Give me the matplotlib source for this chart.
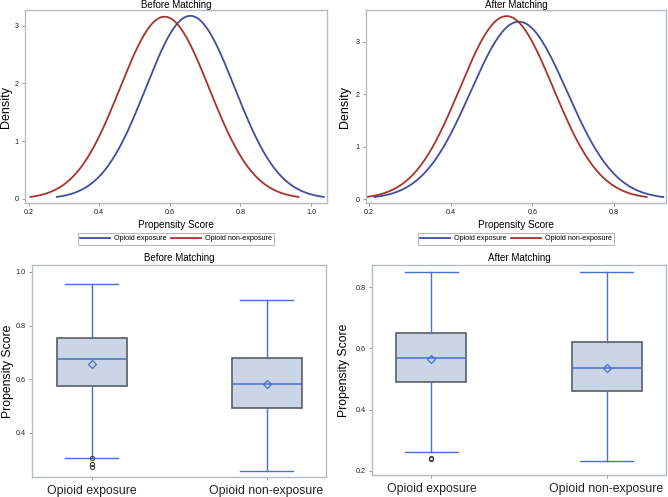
import numpy as np
import matplotlib
matplotlib.use("Agg")
import matplotlib.pyplot as plt

plt.rcParams["font.family"] = ["Liberation Sans", "DejaVu Sans"]

GROUPS = ["Opioid exposure", "Opioid non-exposure"]

# normal density fits (mean, sd) per group
before_mean = [0.658, 0.585]
before_sd = [0.1259, 0.1265]
after_mean = [0.567, 0.537]
after_sd = [0.1178, 0.1142]

# box plot summaries
before_q1 = [0.575, 0.494]
before_med = [0.676, 0.583]
before_q3 = [0.754, 0.681]
before_lo = [0.307, 0.260]
before_hi = [0.956, 0.896]
before_avg = [0.657, 0.584]
before_out = [[0.305, 0.286, 0.274], []]

after_q1 = [0.489, 0.462]
after_med = [0.570, 0.535]
after_q3 = [0.650, 0.620]
after_lo = [0.260, 0.232]
after_hi = [0.849, 0.850]
after_avg = [0.567, 0.536]
after_out = [[0.241, 0.238], []]

BLUE = "#3d4f9e"
RED = "#a8332b"
FRAME = "#b4bcc0"
BOX_FILL = "#cad5e6"
BOX_EDGE = "#5a5f66"
WHISK = "#4a6fcc"

fig = plt.figure(figsize=(6.68, 4.97), dpi=100)


def style_frame(ax):
    for s in ax.spines.values():
        s.set_color(FRAME)
        s.set_linewidth(1.0)
    ax.tick_params(colors="#888888", labelcolor="#222222", labelsize=5.2,
                   length=2.5, width=0.6, pad=2)


def density_panel(rect, title, means, sds, xlim, ylim, xticks, yticks, ylab_x):
    ax = fig.add_axes(rect)
    for m, s, c, lab in zip(means, sds, [BLUE, RED], GROUPS):
        # SAS normal density drawn over mean +/- 3 sd
        x = np.linspace(m - 3 * s, m + 3 * s, 300)
        y = np.exp(-0.5 * ((x - m) / s) ** 2) / (s * np.sqrt(2 * np.pi))
        ax.plot(x, y, color=c, lw=1.3, label=lab)
    ax.set_xlim(*xlim)
    ax.set_ylim(*ylim)
    ax.set_xticks(xticks)
    ax.set_xticklabels([f"{t:.1f}" for t in xticks])
    ax.set_yticks(yticks)
    ax.set_yticklabels([str(t) for t in yticks])
    style_frame(ax)
    ax.set_title(title, fontsize=7, pad=0.8)
    ax.set_xlabel("Propensity Score", fontsize=7.2, labelpad=3)
    ax.set_ylabel("Density", fontsize=9)
    ax.yaxis.set_label_coords(ylab_x, 0.5)
    leg = ax.legend(loc="center", bbox_to_anchor=(0.5, -0.186), ncol=2,
                    fontsize=5.2, frameon=True, fancybox=False,
                    handlelength=4.2, columnspacing=0.6, handletextpad=0.5,
                    borderpad=0.35)
    leg.get_frame().set_edgecolor("#999999")
    leg.get_frame().set_linewidth(0.6)
    return ax


def box_panel(rect, title, q1, med, q3, lo, hi, avg, out, ylim, yticks, ylab_x):
    ax = fig.add_axes(rect)
    stats = []
    for i in range(2):
        stats.append(dict(label=GROUPS[i], q1=q1[i], med=med[i], q3=q3[i],
                          whislo=lo[i], whishi=hi[i], mean=avg[i],
                          fliers=out[i]))
    ax.bxp(stats, positions=[0, 1], widths=0.4, showmeans=True,
           patch_artist=True,
           boxprops=dict(facecolor=BOX_FILL, edgecolor=BOX_EDGE, lw=1.2),
           medianprops=dict(color=WHISK, lw=1.1),
           whiskerprops=dict(color=WHISK, lw=1.0),
           capprops=dict(color=WHISK, lw=1.0),
           capwidths=0.3,
           meanprops=dict(marker="D", markerfacecolor="none",
                          markeredgecolor=WHISK, markersize=4,
                          markeredgewidth=0.9),
           flierprops=dict(marker="o", markerfacecolor="none",
                           markeredgecolor="#444444", markersize=3,
                           markeredgewidth=0.8))
    ax.set_xlim(-0.34, 1.34)
    ax.set_ylim(*ylim)
    ax.set_yticks(yticks)
    ax.set_yticklabels([f"{t:.1f}" for t in yticks])
    style_frame(ax)
    ax.tick_params(axis="x", labelsize=8.8, pad=3)
    ax.set_title(title, fontsize=7, pad=3)
    ax.set_ylabel("Propensity Score", fontsize=8.8)
    ax.yaxis.set_label_coords(ylab_x, 0.5)
    return ax


density_panel([25 / 668, 294 / 497, 302 / 668, 193 / 497], "Before Matching",
              before_mean, before_sd, (0.19, 1.045), (-0.07, 3.27),
              [0.2, 0.4, 0.6, 0.8, 1.0], [0, 1, 2, 3], -0.043)
density_panel([366 / 668, 294 / 497, 300 / 668, 193 / 497], "After Matching",
              after_mean, after_sd, (0.193, 0.927), (-0.076, 3.61),
              [0.2, 0.4, 0.6, 0.8], [0, 1, 2, 3], -0.05)

box_panel([32 / 668, 20 / 497, 294 / 668, 212 / 497], "Before Matching",
          before_q1, before_med, before_q3, before_lo, before_hi, before_avg,
          before_out, (0.236, 1.026), [0.4, 0.6, 0.8, 1.0], -0.062)
box_panel([372 / 668, 22 / 497, 294 / 668, 210 / 497], "After Matching",
          after_q1, after_med, after_q3, after_lo, after_hi, after_avg,
          after_out, (0.186, 0.873), [0.2, 0.4, 0.6, 0.8], -0.074)

fig.savefig("out.png", dpi=100)
